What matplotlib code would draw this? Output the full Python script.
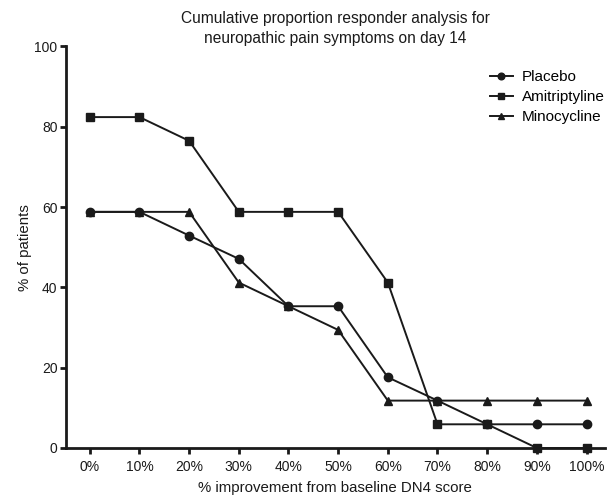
import matplotlib
matplotlib.use("Agg")
import matplotlib.pyplot as plt

plt.rcParams['font.family'] = ['Liberation Sans', 'DejaVu Sans']

x_labels = ['0%', '10%', '20%', '30%', '40%', '50%', '60%', '70%', '80%', '90%', '100%']
x_vals = [0, 10, 20, 30, 40, 50, 60, 70, 80, 90, 100]
placebo = [58.8, 58.8, 52.9, 47.1, 35.3, 35.3, 17.6, 11.8, 5.9, 5.9, 5.9]
amitriptyline = [82.4, 82.4, 76.5, 58.8, 58.8, 58.8, 41.2, 5.9, 5.9, 0, 0]
minocycline = [58.8, 58.8, 58.8, 41.2, 35.3, 29.4, 11.8, 11.8, 11.8, 11.8, 11.8]

fig = plt.figure(figsize=(6.16, 4.97), dpi=100)
ax = fig.add_axes([0.107, 0.0986, 0.875, 0.808])

c = '#1a1a1a'
ax.plot(x_vals, placebo, color=c, marker='o', markersize=6, lw=1.4, label='Placebo', clip_on=False, zorder=3)
ax.plot(x_vals, amitriptyline, color=c, marker='s', markersize=6, lw=1.4, label='Amitriptyline', clip_on=False, zorder=3)
ax.plot(x_vals, minocycline, color=c, marker='^', markersize=6, lw=1.4, label='Minocycline', clip_on=False, zorder=3)

ax.set_xlim(-4.8, 103.7)
ax.set_ylim(0, 100)
ax.set_xticks(x_vals)
ax.set_xticklabels(x_labels)
ax.set_yticks([0, 20, 40, 60, 80, 100])
for s in ['top', 'right']:
    ax.spines[s].set_visible(False)
for s in ['left', 'bottom']:
    ax.spines[s].set_linewidth(2)
    ax.spines[s].set_color(c)
ax.tick_params(axis='both', width=2, length=4, labelsize=10, colors=c)
ax.tick_params(axis='x', pad=4.5)
ax.tick_params(axis='y', pad=2)

ax.set_xlabel('% improvement from baseline DN4 score', fontsize=10.8, color=c, labelpad=5)
ax.set_ylabel('% of patients', fontsize=10.8, color=c, labelpad=2)
ax.set_title('Cumulative proportion responder analysis for\nneuropathic pain symptoms on day 14',
             fontsize=11.2, color=c, pad=1, linespacing=1.45)

leg = ax.legend(loc='upper right', bbox_to_anchor=(1.025, 0.975), frameon=False, fontsize=11,
                handlelength=1.5, handletextpad=0.6, labelspacing=0.4, markerscale=0.8)

fig.savefig('out.png', dpi=100)
